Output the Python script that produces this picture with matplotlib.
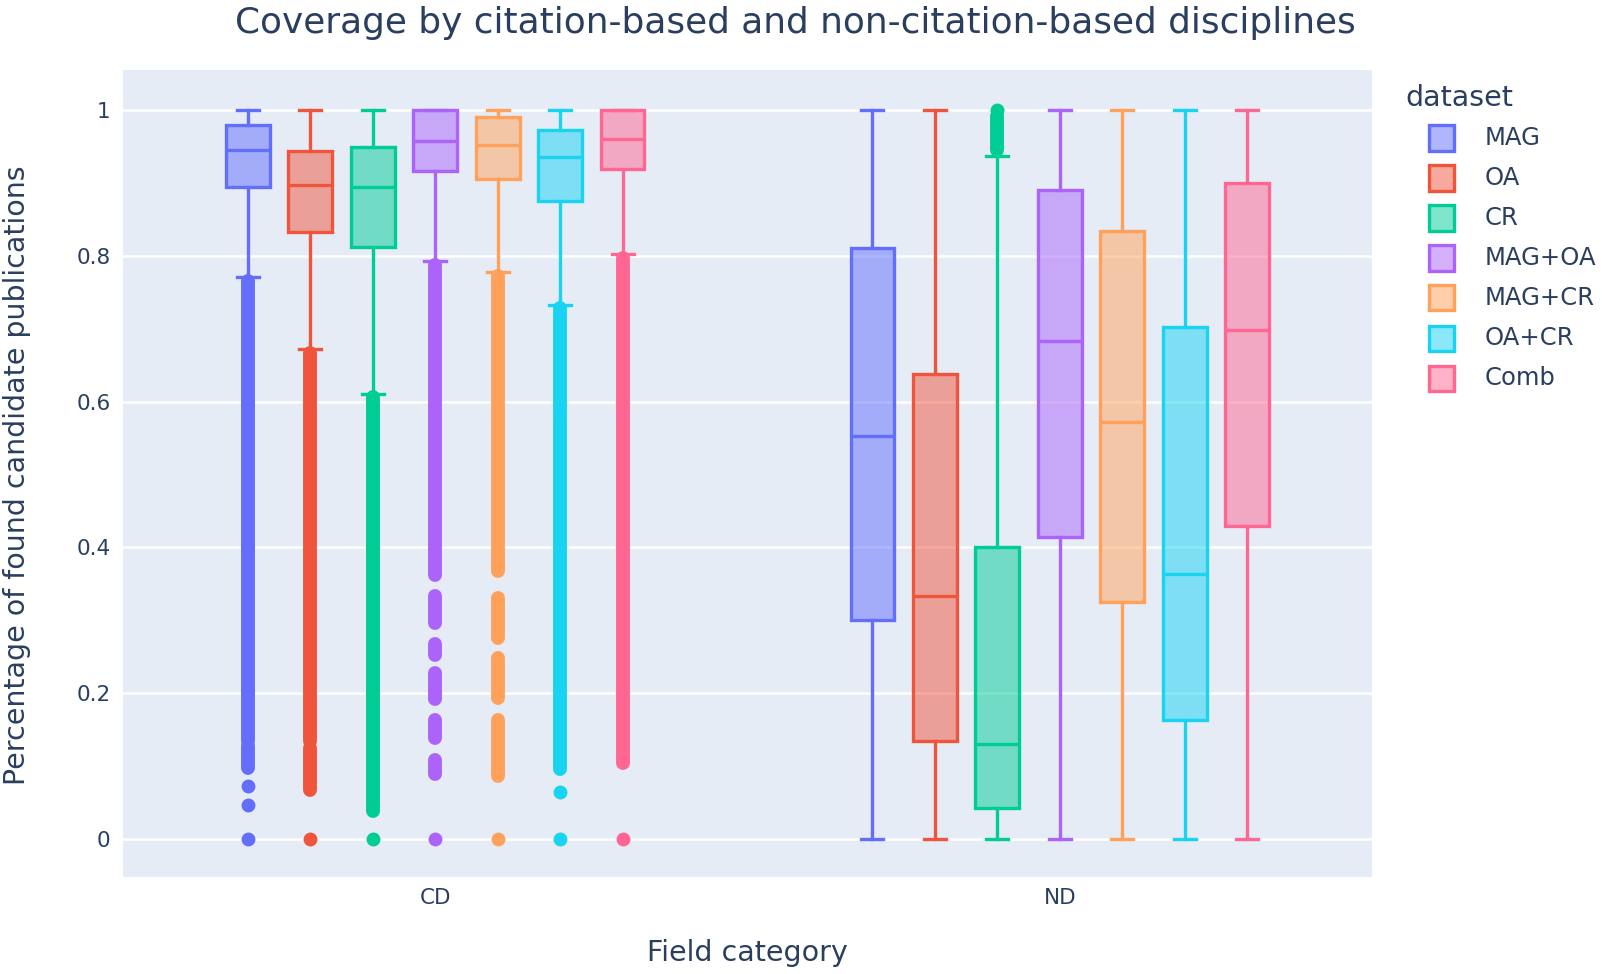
import matplotlib
matplotlib.use('Agg')
import matplotlib.pyplot as plt
from matplotlib.patches import Rectangle

plt.rcParams['font.family'] = ['DejaVu Sans']

datasets = ['MAG', 'OA', 'CR', 'MAG+OA', 'MAG+CR', 'OA+CR', 'Comb']
categories = ['CD', 'ND']
colors = ['#636EFA', '#EF553B', '#00CC96', '#AB63FA', '#FFA15A', '#19D3F3', '#FF6692']

# box statistics (per dataset, in order above)
cd_whislo = [0.771, 0.672, 0.611, 0.793, 0.778, 0.733, 0.802]
cd_q1 = [0.894, 0.833, 0.812, 0.917, 0.905, 0.875, 0.919]
cd_med = [0.945, 0.897, 0.895, 0.957, 0.952, 0.935, 0.960]
cd_q3 = [0.979, 0.944, 0.950, 1.0, 0.990, 0.973, 1.0]
cd_whishi = [1.0, 1.0, 1.0, 1.0, 1.0, 1.0, 1.0]

nd_whislo = [0.0, 0.0, 0.0, 0.0, 0.0, 0.0, 0.0]
nd_q1 = [0.300, 0.134, 0.042, 0.414, 0.325, 0.163, 0.429]
nd_med = [0.553, 0.334, 0.131, 0.683, 0.572, 0.364, 0.699]
nd_q3 = [0.811, 0.638, 0.401, 0.890, 0.834, 0.702, 0.900]
nd_whishi = [1.0, 1.0, 0.937, 1.0, 1.0, 1.0, 1.0]

# outliers: dense runs (low, high) that merge into solid columns, plus lone points
cd_outlier_runs = [
    [(0.135, 0.765), (0.098, 0.128)],
    [(0.135, 0.667), (0.068, 0.125)],
    [(0.038, 0.606)],
    [(0.362, 0.788), (0.297, 0.334), (0.253, 0.267), (0.192, 0.228), (0.139, 0.164), (0.089, 0.109)],
    [(0.368, 0.773), (0.276, 0.331), (0.194, 0.249), (0.086, 0.164)],
    [(0.096, 0.728)],
    [(0.105, 0.797)],
]
cd_outlier_points = [
    [0.073, 0.047, 0.0],
    [0.0],
    [0.0],
    [0.0],
    [0.0],
    [0.065, 0.0],
    [0.0],
]
nd_outlier_runs = [[], [], [(0.945, 0.992)], [], [], [], []]
nd_outlier_points = [[], [], [1.0], [], [], [], []]

group_stats = [
    (cd_whislo, cd_q1, cd_med, cd_q3, cd_whishi, cd_outlier_runs, cd_outlier_points),
    (nd_whislo, nd_q1, nd_med, nd_q3, nd_whishi, nd_outlier_runs, nd_outlier_points),
]

W, H = 1603, 974
text_color = '#2a3f5f'
fig = plt.figure(figsize=(W / 100, H / 100), dpi=100)
ax = fig.add_axes([123 / W, 1 - 877 / H, 1249 / W, 807 / H])
ax.set_facecolor('#E5ECF6')

offset = 0.1
box_w = 0.07
marker_lw = 10

for g, (wlo, q1, med, q3, whi, runs, pts) in enumerate(group_stats):
    for i, name in enumerate(datasets):
        pos = g + (i - 3) * offset
        c = colors[i]
        stat = {'whislo': wlo[i], 'q1': q1[i], 'med': med[i], 'q3': q3[i],
                'whishi': whi[i], 'fliers': []}
        ax.bxp([stat], positions=[pos], widths=box_w, patch_artist=True,
               showfliers=False, manage_ticks=False,
               boxprops=dict(facecolor=c + '80', edgecolor=c, linewidth=2.4),
               medianprops=dict(color=c, linewidth=2.4),
               whiskerprops=dict(color=c, linewidth=2.4),
               capprops=dict(color=c, linewidth=2.4), capwidths=box_w / 2)
        for lo, hi in runs[i]:
            ax.plot([pos, pos], [lo, hi], color=c, linewidth=marker_lw,
                    solid_capstyle='round', zorder=1)
        if pts[i]:
            ax.plot([pos] * len(pts[i]), pts[i], 'o', color=c,
                    markersize=marker_lw, markeredgewidth=0, zorder=1)

ax.set_xlim(-0.5, 1.5)
ax.set_ylim(-0.052, 1.055)
ax.set_xticks(range(len(categories)))
ax.set_xticklabels(categories)
ax.set_yticks([0, 0.2, 0.4, 0.6, 0.8, 1])
ax.set_yticklabels(['0', '0.2', '0.4', '0.6', '0.8', '1'])
ax.grid(axis='y', color='white', linewidth=1.8)
ax.set_axisbelow(True)
for s in ax.spines.values():
    s.set_visible(False)
ax.tick_params(length=0, labelsize=15.5, labelcolor=text_color)
ax.tick_params(axis='y', pad=9)
ax.tick_params(axis='x', pad=8)

fig.text(747 / W, 1 - 953 / H, 'Field category', fontsize=20.5,
         color=text_color, ha='center', va='center')
fig.text(17 / W, 1 - 475 / H, 'Percentage of found candidate publications',
         fontsize=20.5, color=text_color, ha='center', va='center', rotation=90)
fig.text(795 / W, 1 - 23 / H, 'Coverage by citation-based and non-citation-based disciplines',
         fontsize=25.8, color=text_color, ha='center', va='center')

# legend drawn by hand to match the original layout
fig.text(1405 / W, 1 - 98 / H, 'dataset', fontsize=20.5, color=text_color,
         ha='left', va='center')
for i, name in enumerate(datasets):
    cy = 138 + 40 * i
    fig.patches.append(Rectangle(((1441 - 12.5) / W, 1 - (cy + 12.5) / H), 25 / W, 25 / H,
                                 transform=fig.transFigure, facecolor=colors[i] + '80',
                                 edgecolor=colors[i], linewidth=2.4))
    fig.text(1485 / W, 1 - cy / H, name, fontsize=17.5, color=text_color,
             ha='left', va='center')

fig.savefig('out.png', dpi=100, facecolor='white')
